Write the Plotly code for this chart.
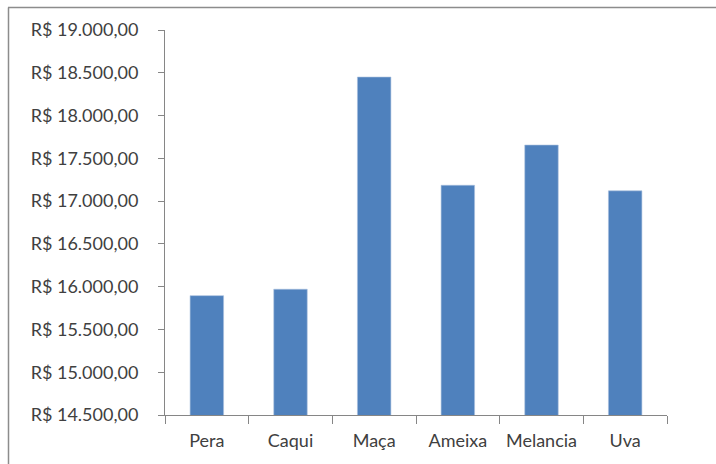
import plotly.graph_objects as go

categories = ["Pera", "Caqui", "Maça", "Ameixa", "Melancia", "Uva"]
values = [15895, 15970, 18450, 17185, 17655, 17120]
tick_values = [14500, 15000, 15500, 16000, 16500, 17000, 17500, 18000, 18500, 19000]
tick_labels = ["R$ 14.500,00", "R$ 15.000,00", "R$ 15.500,00", "R$ 16.000,00",
               "R$ 16.500,00", "R$ 17.000,00", "R$ 17.500,00", "R$ 18.000,00",
               "R$ 18.500,00", "R$ 19.000,00"]

W, H = 716, 464
L, R, T, B = 165, 49, 30, 49
pw, ph = W - L - R, H - T - B

fig = go.Figure(go.Bar(
    x=categories, y=values,
    marker=dict(color="#4F81BD", line=dict(color="#A7C0DE", width=0.6)),
    width=0.4,
))

axis_color = "#868686"
text_color = "#404040"

fig.update_layout(
    width=W, height=H,
    margin=dict(l=L, r=R, t=T, b=B),
    paper_bgcolor="white", plot_bgcolor="white",
    font=dict(family="Lato", size=18, color=text_color),
    showlegend=False,
    xaxis=dict(
        type="category", showline=True, linecolor=axis_color, linewidth=1,
        ticks="outside", tickson="boundaries", ticklen=8, tickcolor=axis_color,
        ticklabelstandoff=9,
        showgrid=False, zeroline=False, fixedrange=True,
    ),
    yaxis=dict(
        range=[14500, 19000], tickvals=tick_values, ticktext=tick_labels,
        showline=True, linecolor=axis_color, linewidth=1,
        ticks="outside", ticklen=6, tickcolor=axis_color,
        ticklabelstandoff=16,
        showgrid=False, zeroline=False, fixedrange=True,
    ),
    shapes=[
        dict(type="line", xref="paper", yref="paper",
             x0=(8 - L) / pw, x1=(W + 10 - L) / pw,
             y0=(H - B - 7.5) / ph, y1=(H - B - 7.5) / ph,
             line=dict(color="#8C8C8C", width=1.5)),
        dict(type="line", xref="paper", yref="paper",
             x0=(8.5 - L) / pw, x1=(8.5 - L) / pw,
             y0=(H - B - 7.5) / ph, y1=(-B - 10) / ph,
             line=dict(color="#8C8C8C", width=1.5)),
    ],
)

fig.write_html(
    "out.html",
    config={"displayModeBar": False},
    post_script="document.body.style.margin='0';document.body.style.overflow='hidden';",
)
